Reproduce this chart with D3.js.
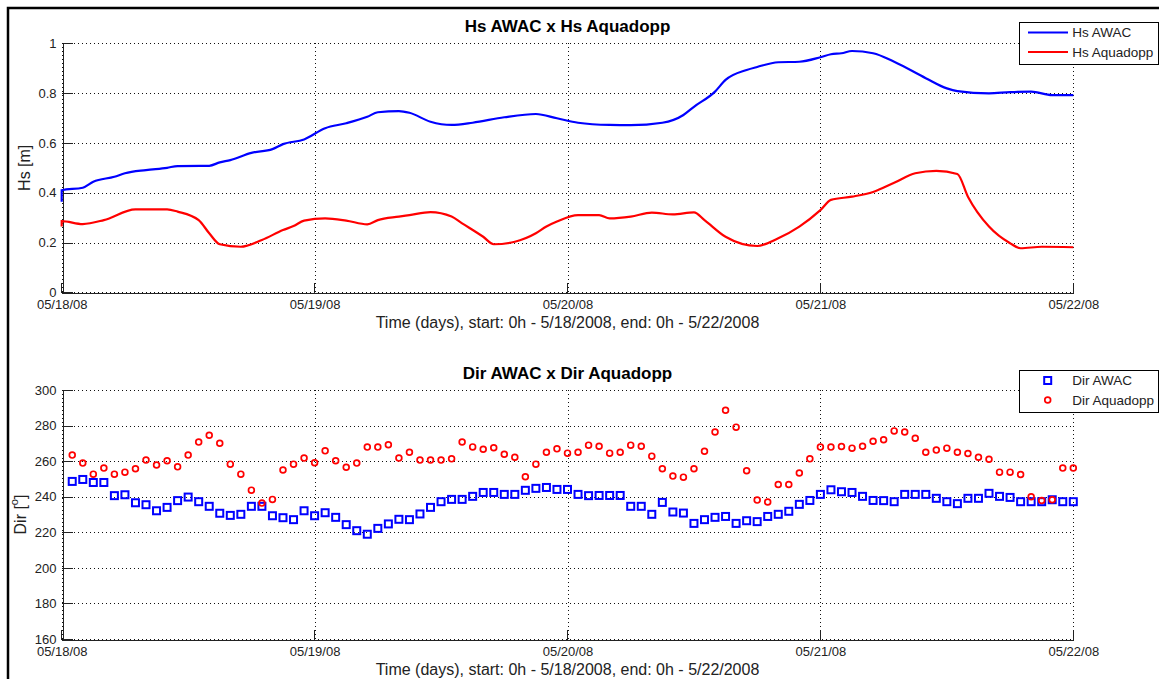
<!DOCTYPE html>
<html>
<head>
<meta charset="utf-8">
<script src="https://cdn.jsdelivr.net/npm/d3@7"></script>
<style>
  body { margin: 0; background: #fff; }
  svg { display: block; font-family: "Liberation Sans", Arial, Helvetica, sans-serif; }
</style>
</head>
<body>
<svg id="chart" width="1159" height="679"></svg>
<script>
// time span of both panels
const startDate = new Date(2008, 4, 18);
const endDate = new Date(2008, 4, 22);
const dayTicks = [0, 1, 2, 3, 4];

// Hs series, [hours since start, metres]
const hsAwac = [
  [0, 0.364], [0.76, 0.41], [2.0, 0.42], [3.6, 0.444], [5.2, 0.464], [6.7, 0.478],
  [8.4, 0.491], [10.0, 0.50], [11.5, 0.507], [14.1, 0.508], [15.7, 0.522], [16.9, 0.531],
  [18.8, 0.56], [20.4, 0.575], [21.9, 0.595], [23.8, 0.614], [25.7, 0.659], [27.6, 0.679],
  [29.0, 0.705], [30.5, 0.723], [32.1, 0.728], [33.3, 0.721], [35.9, 0.685], [37.8, 0.672],
  [39.7, 0.681], [42.2, 0.703], [45.4, 0.716], [47.9, 0.699], [49.8, 0.681], [52.3, 0.672],
  [54.2, 0.671], [57.1, 0.681], [59.3, 0.712], [60.6, 0.745], [62.2, 0.806], [63.7, 0.853],
  [65.3, 0.893], [66.3, 0.905], [68.2, 0.924], [70.1, 0.926], [72.0, 0.944], [73.2, 0.956],
  [74.5, 0.96], [75.8, 0.969], [77.9, 0.96], [79.8, 0.926], [82.1, 0.86], [84.0, 0.819],
  [85.3, 0.808], [88.4, 0.799], [90.3, 0.804], [92.9, 0.806], [94.8, 0.792], [96, 0.792]
];
const hsAquadopp = [
  [0, 0.264], [0.76, 0.286], [2.7, 0.274], [4.3, 0.29], [7.1, 0.333], [10.0, 0.333],
  [11.5, 0.324], [13.1, 0.29], [14.7, 0.237], [15.9, 0.193], [17.8, 0.183], [19.5, 0.21],
  [21.4, 0.25], [22.6, 0.266], [23.8, 0.288], [25.2, 0.297], [27.1, 0.288], [29.0, 0.273],
  [30.5, 0.29], [32.1, 0.304], [33.3, 0.31], [35.6, 0.322], [37.1, 0.304], [38.5, 0.277],
  [40.0, 0.223], [41.9, 0.193], [43.5, 0.203], [45.1, 0.237], [46.6, 0.264], [47.9, 0.284],
  [49.8, 0.31], [51.1, 0.31], [52.3, 0.297], [54.9, 0.304], [56.1, 0.32], [58.0, 0.313],
  [60.3, 0.321], [61.8, 0.29], [63.7, 0.223], [66.0, 0.186], [68.2, 0.217], [70.1, 0.264],
  [72.0, 0.33], [73.9, 0.371], [75.8, 0.384], [77.9, 0.403], [79.8, 0.44], [81.7, 0.478],
  [83.1, 0.488], [85.0, 0.475], [86.9, 0.384], [88.8, 0.264], [90.0, 0.197], [91.2, 0.177],
  [93.1, 0.183], [96, 0.181]
];

// hourly direction samples, hours 1..96
const dirHours = d3.range(1, 97);
const dirAwac = [
  248.6, 249.7, 248.0, 248.0, 240.6, 241.1, 236.6, 235.5, 232.1, 234.0, 237.8, 239.8,
  237.2, 234.6, 230.7, 229.5, 230.1, 234.6, 234.6, 229.3, 228.2, 227.1, 232.1, 229.3,
  231.0, 228.4, 224.3, 220.9, 218.9, 222.2, 224.7, 227.3, 227.1, 230.3, 234.0, 237.2,
  238.5, 238.5, 240.2, 242.4, 242.4, 241.3, 241.3, 243.6, 244.7, 245.2, 244.1, 244.1,
  241.3, 240.6, 240.7, 240.7, 240.7, 234.6, 234.6, 230.1, 236.8, 231.4, 230.8, 225.0,
  227.1, 228.4, 228.9, 225.0, 226.5, 226.0, 228.9, 230.1, 231.8, 235.7, 237.9, 241.3,
  243.9, 242.8, 242.4, 240.2, 237.9, 237.8, 237.2, 241.3, 241.3, 241.3, 239.1, 237.2,
  236.1, 239.1, 239.1, 241.9, 240.2, 239.6, 237.2, 237.2, 237.2, 238.3, 237.2, 237.2
];
const dirAquadopp = [
  263.4, 258.9, 252.7, 256.1, 252.7, 253.8, 255.7, 260.6, 257.8, 260.2, 256.8, 263.4,
  270.7, 274.6, 270.1, 258.3, 252.7, 243.7, 236.4, 238.5, 255.0, 258.3, 261.7, 259.1,
  265.8, 260.2, 256.6, 258.9, 267.9, 267.9, 269.2, 261.7, 265.0, 260.6, 260.6, 260.6,
  261.3, 270.8, 268.0, 266.7, 267.5, 263.9, 262.2, 251.2, 258.3, 265.0, 266.9, 264.5,
  265.0, 269.0, 268.4, 264.5, 265.0, 269.0, 268.4, 262.8, 255.7, 251.6, 251.0, 255.7,
  265.6, 276.4, 288.6, 279.1, 254.6, 238.1, 237.0, 246.9, 246.9, 253.3, 261.3, 267.9,
  267.9, 268.2, 267.3, 268.4, 271.2, 272.0, 277.0, 276.4, 272.9, 265.0, 266.2, 267.3,
  265.0, 264.3, 262.2, 261.1, 253.8, 253.8, 252.5, 240.0, 237.9, 238.3, 256.1, 256.1
];

const hsTicks = [0, 0.2, 0.4, 0.6, 0.8, 1];
const dirTicks = [160, 180, 200, 220, 240, 260, 280, 300];

const xLabel = "Time (days), start: 0h - 5/18/2008, end: 0h - 5/22/2008";
const BLUE = "#0000ff", RED = "#ff0000";

const svg = d3.select("#chart");
const hourDate = (h) => d3.timeHour.offset(startDate, h);
const fmt = d3.timeFormat("%m/%d/%y");

const x = d3.scaleTime().domain([startDate, endDate]).range([61.7, 1073.3]);
const xTickDates = dayTicks.map((d) => d3.timeDay.offset(startDate, d));

// window frame
svg.append("path")
  .attr("d", "M8,679V8H1159")
  .attr("fill", "none")
  .attr("stroke", "#000")
  .attr("stroke-width", 2.5);

function panel(opts) {
  const y = d3.scaleLinear().domain(opts.domain).range(opts.range);
  const g = svg.append("g");
  const top = opts.range[1], bottom = opts.range[0];

  // dotted grid
  const grid = g.append("g")
    .attr("stroke", "#111")
    .attr("stroke-width", 1)
    .attr("stroke-dasharray", "1,3")
    .attr("shape-rendering", "crispEdges");
  grid.selectAll("line.h").data(opts.ticks).join("line")
    .attr("class", "h")
    .attr("x1", x.range()[0]).attr("x2", x.range()[1])
    .attr("y1", (d) => Math.round(y(d)) + 0.5).attr("y2", (d) => Math.round(y(d)) + 0.5);
  grid.selectAll("line.v").data(xTickDates).join("line")
    .attr("class", "v")
    .attr("y1", top).attr("y2", bottom)
    .attr("x1", (d) => Math.round(x(d)) + 0.5).attr("x2", (d) => Math.round(x(d)) + 0.5);

  // axes, ticks pointing inward like MATLAB
  const xAxis = g.append("g")
    .attr("transform", `translate(0,${Math.round(bottom) + 0.5})`)
    .call(d3.axisBottom(x).tickValues(xTickDates).tickFormat(fmt)
      .tickSize(-10).tickSizeOuter(0).tickPadding(7));
  const yAxis = g.append("g")
    .attr("transform", `translate(${Math.round(x.range()[0]) + 0.5},0)`)
    .call(d3.axisLeft(y).tickValues(opts.ticks).tickFormat(d3.format("")).tickSize(-10).tickSizeOuter(0).tickPadding(6));
  [xAxis, yAxis].forEach((a) => {
    a.attr("font-family", null).attr("font-size", 13);
    a.selectAll("path, line").attr("stroke", "#222").attr("shape-rendering", "crispEdges");
    a.selectAll("text").attr("fill", "#222");
  });
  xAxis.selectAll(".tick line").attr("transform", "translate(-0.5,0)");

  // title and labels
  g.append("text")
    .attr("x", 567.5).attr("y", top - 11.5)
    .attr("text-anchor", "middle")
    .attr("font-size", 17).attr("font-weight", "bold")
    .text(opts.title);
  g.append("text")
    .attr("x", 567.5).attr("y", bottom + 36)
    .attr("text-anchor", "middle")
    .attr("font-size", 16).attr("fill", "#222")
    .text(xLabel);
  const yl = g.append("text")
    .attr("transform", `translate(${opts.yLabelX},${(top + bottom) / 2}) rotate(-90)`)
    .attr("text-anchor", "middle")
    .attr("dominant-baseline", "central")
    .attr("font-size", 16).attr("fill", "#222");
  opts.yLabel(yl);

  return { g, y };
}

// ---- top panel: Hs
const p1 = panel({
  domain: [0, 1], range: [292.3, 43.3], ticks: hsTicks,
  title: "Hs AWAC x Hs Aquadopp", yLabelX: 24,
  yLabel: (t) => t.text("Hs [m]")
});
const line = d3.line()
  .x((d) => x(hourDate(d[0])))
  .y((d) => p1.y(d[1]))
  .curve(d3.curveMonotoneX);
p1.g.append("path").datum(hsAwac)
  .attr("d", line).attr("fill", "none").attr("stroke", BLUE).attr("stroke-width", 2.2);
p1.g.append("path").datum(hsAquadopp)
  .attr("d", line).attr("fill", "none").attr("stroke", RED).attr("stroke-width", 2.2);

// ---- bottom panel: direction
const p2 = panel({
  domain: [160, 300], range: [639, 390], ticks: dirTicks,
  title: "Dir AWAC x Dir Aquadopp", yLabelX: 20,
  yLabel: (t) => {
    t.append("tspan").text("Dir [");
    t.append("tspan").attr("font-size", 11).attr("dy", -6).text("o");
    t.append("tspan").attr("dy", 6).text("]");
  }
});
p2.g.append("g").selectAll("rect").data(dirHours).join("rect")
  .attr("x", (h) => x(hourDate(h)) - 3.5)
  .attr("y", (h, i) => p2.y(dirAwac[i]) - 3.5)
  .attr("width", 7).attr("height", 7)
  .attr("fill", "none").attr("stroke", BLUE).attr("stroke-width", 2);
p2.g.append("g").selectAll("circle").data(dirHours).join("circle")
  .attr("cx", (h) => x(hourDate(h)))
  .attr("cy", (h, i) => p2.y(dirAquadopp[i]))
  .attr("r", 2.9)
  .attr("fill", "none").attr("stroke", RED).attr("stroke-width", 1.7);

// ---- legends
function legend(yTop, items) {
  const lg = svg.append("g");
  lg.append("rect")
    .attr("x", 1019.5).attr("y", yTop + 0.5).attr("width", 139).attr("height", 42)
    .attr("fill", "#fff").attr("stroke", "#000").attr("stroke-width", 1);
  items.forEach((it, i) => {
    const cy = yTop + 10.5 + i * 19.5;
    if (it.kind === "line") {
      lg.append("line").attr("x1", 1028).attr("x2", 1068).attr("y1", cy).attr("y2", cy)
        .attr("stroke", it.color).attr("stroke-width", 2.2);
    } else if (it.kind === "square") {
      lg.append("rect").attr("x", 1044.2).attr("y", cy - 3.5).attr("width", 7).attr("height", 7)
        .attr("fill", "none").attr("stroke", it.color).attr("stroke-width", 2);
    } else {
      lg.append("circle").attr("cx", 1047.7).attr("cy", cy).attr("r", 2.9)
        .attr("fill", "none").attr("stroke", it.color).attr("stroke-width", 1.7);
    }
    lg.append("text").attr("x", 1072.3).attr("y", cy).attr("dy", "0.35em")
      .attr("font-size", 13.5).attr("fill", "#222").text(it.label);
  });
}
legend(22, [
  { kind: "line", color: BLUE, label: "Hs AWAC" },
  { kind: "line", color: RED, label: "Hs Aquadopp" }
]);
legend(370, [
  { kind: "square", color: BLUE, label: "Dir AWAC" },
  { kind: "circle", color: RED, label: "Dir Aquadopp" }
]);
</script>
</body>
</html>
